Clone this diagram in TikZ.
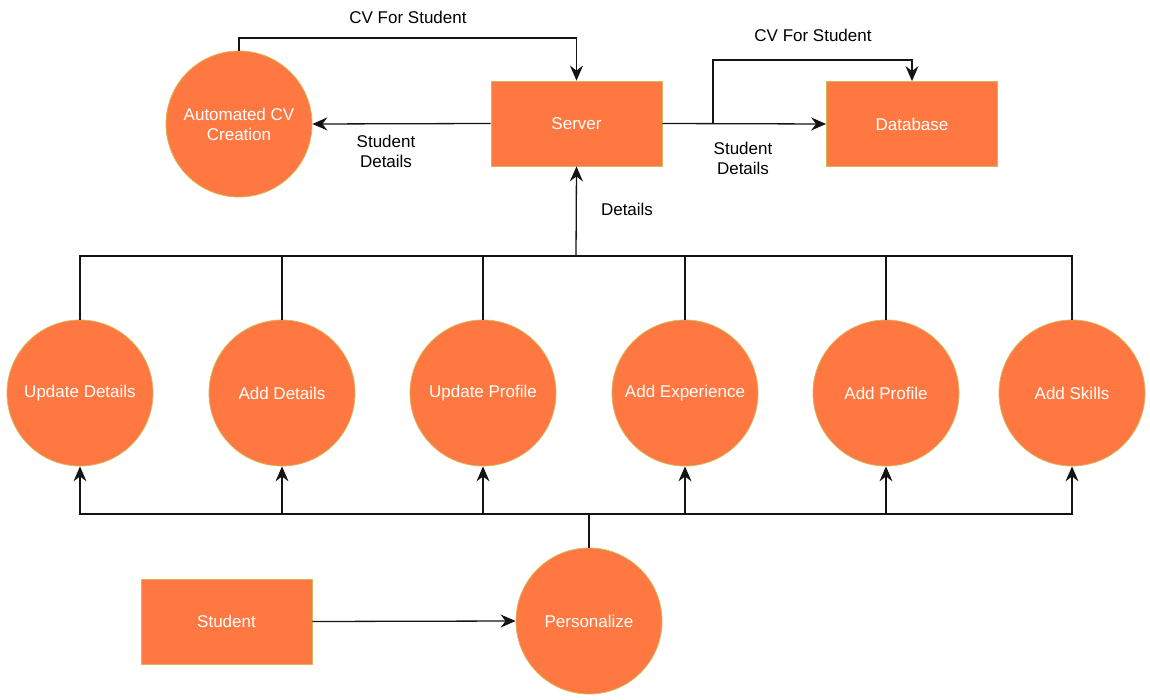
\documentclass[tikz,border=0pt]{standalone}
\usepackage{fontspec}
\setmainfont{Liberation Sans}
\usetikzlibrary{arrows.meta}
\definecolor{boxfill}{RGB}{255,120,66}
\definecolor{boxline}{RGB}{214,182,86}
\definecolor{wire}{RGB}{20,20,20}
\begin{document}
\begin{tikzpicture}[x=1pt,y=-1pt,
  font=\fontsize{17}{20}\selectfont,
  proc/.style={circle,fill=boxfill,draw=boxline,line width=0.8pt,minimum size=146pt,inner sep=0pt,text=white,align=center},
  ent/.style={rectangle,fill=boxfill,draw=boxline,line width=0.8pt,minimum width=171pt,minimum height=85pt,inner sep=0pt,text=white,align=center},
  wirel/.style={draw=wire,line width=1.3pt},
  arr/.style={wirel,-{Stealth[length=15pt,width=13pt,inset=5pt]}},
  lbl/.style={text=black,align=center,inner sep=0pt}]
\useasboundingbox (0,0) rectangle (1150,700);

% top row
\node[proc] (acv) at (239,124) {Automated CV\\Creation};
\node[ent] (server) at (576.5,123.5) {Server};
\node[ent] (db) at (912,124) {Database};

% middle row
\node[proc] (ud) at (80,393) {Update Details};
\node[proc] (ad) at (282,393) {Add Details};
\node[proc] (up) at (483,393) {Update Profile};
\node[proc] (ae) at (685,393) {Add Experience};
\node[proc] (ap) at (886,393) {Add Profile};
\node[proc] (as) at (1072,393) {Add Skills};

% bottom row
\node[ent] (student) at (226.5,621.5) {Student};
\node[proc] (pers) at (589,621) {Personalize};

% coordinates
\coordinate (topbus) at (576,256);
\coordinate (botbus) at (589,514);
\coordinate (dbsplit) at (713,124);

% top connections
\draw[arr] (acv.north) -- (239,38) -| (server.north);
\node[lbl] (lcv1) at (408,17) {CV For Student};
\draw[arr] (server.west) -- (acv.east);
\node[lbl] (lsd1) at (386,151) {Student\\Details};
\draw[arr] (server.east) -- (db.west);
\draw[arr] (dbsplit) -- (713,60) -| (db.north);
\node[lbl] (lcv2) at (813,35) {CV For Student};
\node[lbl] (lsd2) at (743,158) {Student\\Details};

% details bus to server
\draw[arr] (topbus) -- (server.south);
\node[lbl] (ldet) at (627,209) {Details};
\foreach \n in {ud,ad,up,ae,ap,as}{
  \draw[wirel] (\n.north) |- (topbus);
}

% personalize bus
\draw[wirel] (pers.north) -- (botbus);
\foreach \n in {ud,ad,up,ae,ap,as}{
  \draw[arr] (botbus) -| (\n.south);
}
\draw[arr] (student.east) -- (pers.west);
\end{tikzpicture}
\end{document}
